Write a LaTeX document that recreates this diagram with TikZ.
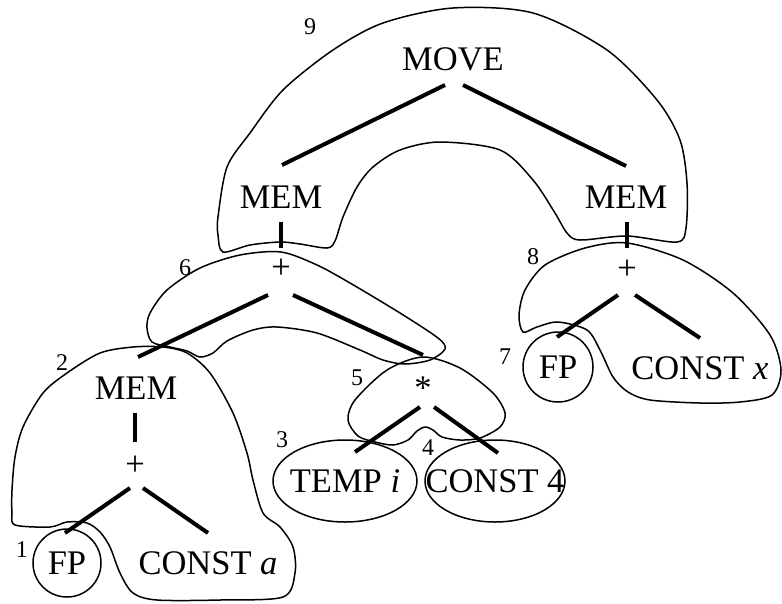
\documentclass[tikz,border=0pt]{standalone}
\usepackage{fontspec}
\setmainfont{Liberation Serif}
\begin{document}
\begin{tikzpicture}[x=1pt,y=-1pt,
  lbl/.style={font=\fontsize{34.5}{40}\selectfont, inner sep=0pt},
  num/.style={font=\fontsize{24}{28}\selectfont, inner sep=0pt},
  edge/.style={line width=4pt},
  region/.style={line width=1.5pt}]
\useasboundingbox (0,0) rectangle (782,603);
% text nodes
\node[lbl] (move)   at (453,59)  {MOVE};
\node[lbl] (meml)   at (281,197) {MEM};
\node[lbl] (memr)   at (626,197) {MEM};
\node[lbl] (plus6)  at (281,269) {+};
\node[lbl] (plus8)  at (627,270) {+};
\node[lbl] (mem2)   at (136,388) {MEM};
\node[lbl] (plus2)  at (135,466) {+};
\node[lbl] (fp1)    at (67,563)  {FP};
\node[lbl] (consta) at (208,563) {CONST \textit{a}};
\node[lbl] (star)   at (423,388) {*};
\node[lbl] (tempi)  at (345,481) {TEMP \textit{i}};
\node[lbl] (const4) at (495,481) {CONST 4};
\node[lbl] (fp7)    at (558,367) {FP};
\node[lbl] (constx) at (700,368) {CONST \textit{x}};
% numbers
\node[num] (n9) at (310,27)  {9};
\node[num] (n6) at (185,268) {6};
\node[num] (n2) at (62,363)  {2};
\node[num] (n1) at (22,550)  {1};
\node[num] (n5) at (357,378) {5};
\node[num] (n3) at (282,440) {3};
\node[num] (n4) at (428,448) {4};
\node[num] (n8) at (533,257) {8};
\node[num] (n7) at (505,357) {7};
% leaf outlines
\draw[region] (fp1.center) circle [radius=34];
\draw[region] (fp7.center) circle [radius=35];
\draw[region] (tempi.center) ellipse [x radius=72, y radius=41];
\draw[region] (const4.center) ellipse [x radius=70, y radius=41];
% tree edges
\draw[edge] ([shift={(-8,26)}]move.center) -- ([shift={(1,-32)}]meml.center);
\draw[edge] ([shift={(10,26)}]move.center) -- ([shift={(0,-31)}]memr.center);
\draw[edge] ([shift={(0,25)}]meml.center) -- ([shift={(0,-21)}]plus6.center);
\draw[edge] ([shift={(1,25)}]memr.center) -- ([shift={(0,-22)}]plus8.center);
\draw[edge] ([shift={(-13,26)}]plus6.center) -- ([shift={(2,-31)}]mem2.center);
\draw[edge] ([shift={(12,26)}]plus6.center) -- ([shift={(0,-33)}]star.center);
\draw[edge] ([shift={(-1,25)}]mem2.center) -- ([shift={(0,-24)}]plus2.center);
\draw[edge] ([shift={(-5,22)}]plus2.center) -- ([shift={(-2,-30)}]fp1.center);
\draw[edge] ([shift={(8,22)}]plus2.center) -- ([shift={(0,-30)}]consta.center);
\draw[edge] ([shift={(-3,19)}]star.center) -- ([shift={(10,-29)}]tempi.center);
\draw[edge] ([shift={(11,19)}]star.center) -- ([shift={(3,-28)}]const4.center);
\draw[edge] ([shift={(-9,25)}]plus8.center) -- ([shift={(-1,-30)}]fp7.center);
\draw[edge] ([shift={(8,25)}]plus8.center) -- ([shift={(0,-30)}]constx.center);
% region 9
\draw[region] plot[smooth cycle, tension=0.5] coordinates {
 (223,252) (218,235) (218,217) (227,167) (250,133) (283,90) (333,50) (383,23)
 (453,8) (533,13) (607,50) (657,100) (680,140) (687,183) (686,228) (677,242)
 (627,236) (580,240) (567,233) (555,213) (533,180) (500,150) (440,142) (400,150)
 (373,167) (357,187) (343,217) (335,241) (327,248) (300,244) (280,242) (250,245)};
% region 6
\draw[region] plot[smooth cycle, tension=0.5] coordinates {
 (281,252) (317,265) (350,283) (400,313) (438,338) (445,349) (430,360) (405,364)
 (383,360) (360,350) (317,333) (277,327) (253,330) (227,341) (213,353) (200,357)
 (187,351) (170,347) (152,342) (147,328) (150,313) (167,290) (200,268) (240,255)};
% region 2
\draw[region] plot[smooth cycle, tension=0.5] coordinates {
 (163,347) (187,353) (210,373) (233,413) (247,453) (253,480) (263,513) (280,527)
 (293,547) (295,573) (283,597) (220,600) (157,600) (133,593) (120,573) (110,547)
 (100,532) (87,523) (67,522) (50,527) (15,525) (12,513) (12,490) (15,457) (23,427)
 (43,393) (67,373) (100,353) (133,347)};
% region 5
\draw[region] plot[smooth cycle, tension=0.5] coordinates {
 (423,357) (460,368) (493,393) (505,413) (500,427) (480,438) (460,440) (442,437)
 (433,430) (425,427) (417,431) (408,440) (393,445) (375,442) (358,436) (348,420)
 (355,400) (387,370)};
% region 8
\draw[region] plot[smooth cycle, tension=0.5] coordinates {
 (627,243) (683,260) (733,293) (770,335) (781,370) (772,395) (740,402) (700,403)
 (650,400) (628,392) (613,377) (600,350) (587,330) (558,322) (537,327) (523,332)
 (519,315) (525,290) (545,265) (585,248)};
\end{tikzpicture}
\end{document}
